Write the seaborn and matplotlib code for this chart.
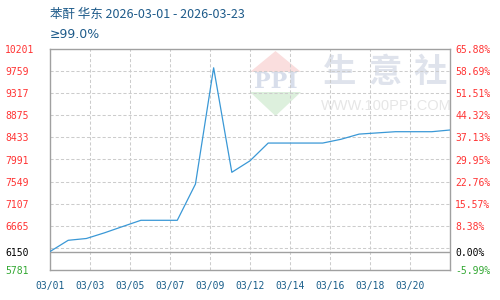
import numpy as np
import pandas as pd
import matplotlib
matplotlib.use("Agg")
import matplotlib.pyplot as plt
import seaborn as sns
from matplotlib.patches import Polygon

# ---------------- data ----------------
dates = ["03/01", "03/02", "03/03", "03/04", "03/05", "03/06", "03/07", "03/08",
         "03/09", "03/10", "03/11", "03/12", "03/13", "03/14", "03/15", "03/16",
         "03/17", "03/18", "03/19", "03/20", "03/21", "03/22", "03/23"]
prices = [6150, 6375, 6411, 6525, 6651, 6775, 6775, 6775, 7500, 9825, 7735, 7965,
          8320, 8320, 8320, 8320, 8395, 8499, 8523, 8547, 8547, 8547, 8581]
x_tick_labels = ["03/01", "03/03", "03/05", "03/07", "03/09", "03/12", "03/14",
                 "03/16", "03/18", "03/20"]
y_tick_values = [10201, 9759, 9317, 8875, 8433, 7991, 7549, 7107, 6665, 6150, 5781]
y_tick_labels = ["10201", "9759", "9317", "8875", "8433", "7991", "7549", "7107",
                 "6665", "6150", "5781"]
pct_labels = ["65.88%", "58.69%", "51.51%", "44.32%", "37.13%", "29.95%", "22.76%",
              "15.57%", "8.38%", "0.00%", "-5.99%"]
base_price = 6150
title = "苯酐 华东 2026-03-01 - 2026-03-23"
subtitle = "≥99.0%"

df = pd.DataFrame({"idx": np.arange(len(dates)), "date": dates, "price": prices})

# ---------------- style ----------------
sns.set_theme(style="white")
plt.rcParams["font.family"] = ["Noto Sans CJK SC", "DejaVu Sans"]

W, H = 500, 300
fig = plt.figure(figsize=(5, 3), dpi=100)
fig.patch.set_facecolor("white")
ax = fig.add_axes([50 / W, 1 - 270 / H, 400 / W, 221 / H])
ax.set_facecolor("white")

ymin, ymax = min(y_tick_values), max(y_tick_values)
xmax = len(dates) - 1
ax.set_xlim(0, xmax)
ax.set_ylim(ymin, ymax)

def fpx(x, y):
    return (x / W, 1 - y / H)

# ---------------- watermark ----------------
red_tri = Polygon([fpx(275.5, 51), fpx(301, 72), fpx(250, 72)], closed=True,
                  transform=fig.transFigure, facecolor="#fadede", edgecolor="none", zorder=0)
green_tri = Polygon([fpx(250, 92), fpx(301, 92), fpx(275.5, 116)], closed=True,
                    transform=fig.transFigure, facecolor="#ddf0dd", edgecolor="none", zorder=0)
ax.add_patch(red_tri)
ax.add_patch(green_tri)
ax.text(*fpx(275.5, 82.5), "PPI", transform=fig.transFigure, ha="center", va="center",
        fontsize=16, color="#d8deeb", family="DejaVu Serif", fontweight="bold", zorder=0)
for ch, cx in zip("生意社", [340, 385, 430]):
    ax.text(*fpx(cx, 72.5), ch, transform=fig.transFigure, ha="center", va="center",
            fontsize=24, color="#dfe3ec", family=["Noto Sans CJK SC"], fontweight="bold", zorder=0)
ax.text(*fpx(386.5, 106), "WWW.100PPI.COM", transform=fig.transFigure, ha="center",
        va="center", fontsize=10.5, color="#e6e6e6", family="Liberation Sans", zorder=0)

# ---------------- grid ----------------
x_tick_pos = np.arange(len(x_tick_labels)) * xmax / 10.0
grid_y = np.linspace(ymin, ymax, 11)
ax.hlines(grid_y[1:-1], 0, xmax, colors="#cccccc", linewidth=0.75,
          linestyles=(0, (3, 2)), zorder=1)
ax.vlines(x_tick_pos[1:], ymin, ymax, colors="#cccccc", linewidth=0.75,
          linestyles=(0, (3, 2)), zorder=1)
ax.axhline(base_price, color="#a0a0a0", linewidth=1.0, zorder=2)

# ---------------- line ----------------
sns.lineplot(data=df, x="idx", y="price", ax=ax, color="#3a98d6", linewidth=0.9, zorder=3)

# ---------------- axes / ticks ----------------
for s in ax.spines.values():
    s.set_color("#a0a0a0")
    s.set_linewidth(1.0)
ax.set_xlabel("")
ax.set_ylabel("")

ax.set_xticks(x_tick_pos)
ax.set_xticklabels(x_tick_labels)
ax.tick_params(axis="x", length=0, pad=8, labelsize=7, labelcolor="#1a5e8a")
for lab in ax.get_xticklabels():
    lab.set_family("DejaVu Sans Mono")

def lab_color(v):
    if v > base_price:
        return "#ff3333"
    if v < base_price:
        return "#33a833"
    return "#000000"

ax.set_yticks(y_tick_values)
ax.set_yticklabels(y_tick_labels)
ax.tick_params(axis="y", length=0, pad=32.4, labelsize=7)
for lab, v in zip(ax.get_yticklabels(), y_tick_values):
    lab.set_ha("left")
    lab.set_family("DejaVu Sans Mono")
    lab.set_color(lab_color(v))

ax2 = ax.twinx()
ax2.set_ylim(ymin, ymax)
ax2.set_yticks(y_tick_values)
ax2.set_yticklabels(pct_labels)
ax2.tick_params(axis="y", length=0, pad=3.6, labelsize=7)
for lab, v in zip(ax2.get_yticklabels(), y_tick_values):
    lab.set_family("DejaVu Sans Mono")
    lab.set_color(lab_color(v))
for s in ax2.spines.values():
    s.set_visible(False)
ax2.grid(False)
ax.grid(False)

# ---------------- titles ----------------
fig.text(*fpx(50, 14.5), title, ha="left", va="center", fontsize=9, color="#1e5b8a")
fig.text(*fpx(50, 35), subtitle, ha="left", va="center", fontsize=9, color="#1e5b8a",
         family=["DejaVu Sans"])

fig.savefig("out.png", dpi=100, facecolor="white")
